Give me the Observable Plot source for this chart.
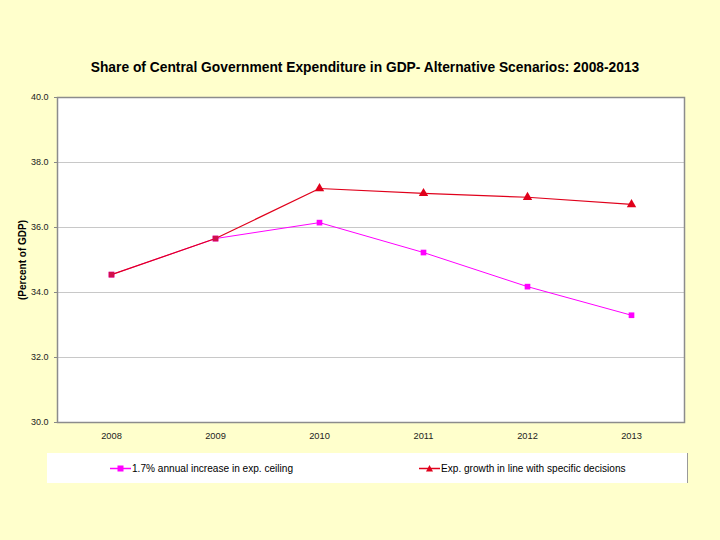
<!DOCTYPE html>
<html>
<head>
<meta charset="utf-8">
<script src="https://cdn.jsdelivr.net/npm/d3@7"></script>
<script src="https://cdn.jsdelivr.net/npm/@observablehq/plot@0.6"></script>
<style>
  html, body { margin: 0; padding: 0; background: #FFFFCC; }
  #wrap { position: relative; width: 720px; height: 540px; font-family: "Liberation Sans", Arial, sans-serif; }
  #title { position: absolute; left: 0; top: 58px; width: 730px; text-align: center; font-weight: bold; font-size: 15px; color: #000; transform: scaleX(0.92); transform-origin: 365px 0; }
  #legend { position: absolute; left: 47px; top: 453px; width: 640px; height: 30px; background: #fff; border-right: 1px solid #999; font-size: 10.1px; color: #000; }
  .item { position: absolute; top: 9px; display: flex; align-items: center; white-space: nowrap; }
  .item svg { margin-right: 1px; }
  #chart { position: absolute; left: 0; top: 0; }
</style>
</head>
<body>
<div id="wrap">
  <div id="chart"></div>
  <div id="title">Share of Central Government Expenditure in GDP- Alternative Scenarios: 2008-2013</div>
  <div id="legend"></div>
</div>
<script>
const years = ["2008", "2009", "2010", "2011", "2012", "2013"];
const ceilingSeries = [34.55, 35.66, 36.15, 35.23, 34.18, 33.30];
const decisionsSeries = [34.55, 35.66, 37.20, 37.05, 36.93, 36.71];
const seriesNames = ["1.7% annual increase in exp. ceiling", "Exp. growth in line with specific decisions"];
const seriesColors = ["#FF00FF", "#E0001B"];
const yTicks = [30, 32, 34, 36, 38, 40];

const ceiling = years.map((y, i) => ({year: y, value: ceilingSeries[i]}));
const decisions = years.map((y, i) => ({year: y, value: decisionsSeries[i]}));
const decisionsDistinct = decisions.filter((d, i) => d.value !== ceilingSeries[i]);

const chart = Plot.plot({
  width: 720,
  height: 540,
  marginTop: 97,
  marginBottom: 118,
  marginLeft: 57,
  marginRight: 36,
  style: {background: "transparent", fontFamily: "Liberation Sans, Arial, sans-serif", fontSize: "9px", color: "#222"},
  x: {type: "band", domain: years, padding: 0, label: null},
  y: {domain: [30, 40], label: null},
  marks: [
    Plot.frame({fill: "white"}),
    Plot.gridY(yTicks.filter(t => t > 30 && t < 40), {stroke: "#C8C8C8", strokeOpacity: 1, strokeWidth: 1}),
    Plot.axisY({ticks: yTicks, tickFormat: d3.format(".1f"), tickSize: 3, tickPadding: 6, stroke: "#888", fontSize: 9}),
    Plot.axisX({tickSize: 0, tickPadding: 10, fontSize: 9.3}),
    Plot.frame({stroke: "#8C8C8C", strokeWidth: 1.5}),
    Plot.line(ceiling, {x: "year", y: "value", stroke: seriesColors[0], strokeWidth: 1}),
    Plot.dot(ceiling, {x: "year", y: "value", symbol: "square", fill: seriesColors[0], r: 3.2}),
    Plot.line(decisions, {x: "year", y: "value", stroke: seriesColors[1], strokeWidth: 1.2}),
    Plot.dot(decisions.slice(0, 2), {x: "year", y: "value", symbol: "square", fill: "#D0104C", r: 3.2}),
    Plot.dot(decisionsDistinct, {x: "year", y: "value", symbol: "triangle", fill: seriesColors[1], r: 3.5}),
    Plot.text(["(Percent of GDP)"], {frameAnchor: "left", dx: -35, rotate: -90, textAnchor: "middle", fontWeight: "bold", fontSize: 10, fill: "#000"})
  ]
});
document.getElementById("chart").appendChild(chart);

const legend = document.getElementById("legend");
const lx = [63, 372];
seriesNames.forEach((name, i) => {
  const item = document.createElement("div");
  item.className = "item";
  item.style.left = lx[i] + "px";
  const sym = i === 0
    ? `<rect x="7.5" y="3.5" width="6" height="6" fill="${seriesColors[i]}"/>`
    : `<path d="M10.5,3 L14,9.5 L7,9.5 Z" fill="${seriesColors[i]}"/>`;
  item.innerHTML = `<svg width="21" height="13"><line x1="0" x2="21" y1="6.5" y2="6.5" stroke="${seriesColors[i]}" stroke-width="1.5"/>${sym}</svg><span>${name}</span>`;
  legend.appendChild(item);
});
</script>
</body>
</html>
